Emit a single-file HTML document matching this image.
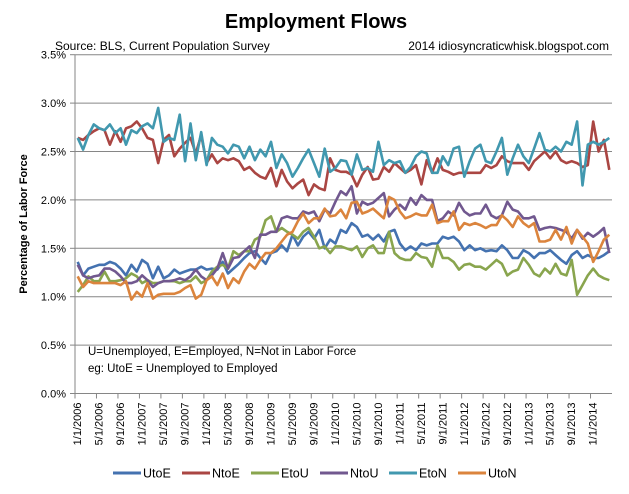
<!DOCTYPE html>
<html><head><meta charset="utf-8"><style>
html,body{margin:0;padding:0;background:#fff;}
svg{display:block;font-family:"Liberation Sans",Arial,sans-serif;}
</style></head><body>
<svg id="chart" width="629" height="494" viewBox="0 0 629 494">
<text x="316" y="28" text-anchor="middle" font-size="20" font-weight="bold" fill="#000">Employment Flows</text>
<text x="55" y="50" font-size="12" fill="#000">Source: BLS, Current Population Survey</text>
<text x="609" y="50" text-anchor="end" font-size="12" fill="#000">2014  idiosyncraticwhisk.blogspot.com</text>
<text transform="translate(27,224) rotate(-90)" text-anchor="middle" font-size="11" font-weight="bold" fill="#000">Percentage of Labor Force</text>
<g id="grid"></g>
<g id="yticks"></g>
<g id="xticks"></g>
<g id="series"></g>
<text x="88" y="355" font-size="11.5" fill="#000">U=Unemployed, E=Employed, N=Not in Labor Force</text>
<text x="88" y="372" font-size="11.5" fill="#000">eg: UtoE = Unemployed to Employed</text>
<g id="legend"></g>
</svg>
<script>
const seriesNames = ["UtoE","NtoE","EtoU","NtoU","EtoN","UtoN"];
const yTicks = [0,0.5,1.0,1.5,2.0,2.5,3.0,3.5];
const xLabels = ["1/1/2006","5/1/2006","9/1/2006","1/1/2007","5/1/2007","9/1/2007","1/1/2008","5/1/2008","9/1/2008","1/1/2009","5/1/2009","9/1/2009","1/1/2010","5/1/2010","9/1/2010","1/1/2011","5/1/2011","9/1/2011","1/1/2012","5/1/2012","9/1/2012","1/1/2013","5/1/2013","9/1/2013","1/1/2014"];
const UtoE = [1.36,1.22,1.29,1.31,1.33,1.33,1.36,1.34,1.29,1.22,1.33,1.26,1.38,1.34,1.19,1.31,1.19,1.22,1.28,1.24,1.26,1.28,1.28,1.31,1.28,
1.29,1.28,1.36,1.24,1.29,1.34,1.40,1.45,1.47,1.40,1.34,1.45,1.47,1.53,1.47,1.64,1.53,1.62,1.67,1.60,1.69,1.50,1.59,1.55,1.69,
1.66,1.76,1.72,1.62,1.64,1.59,1.64,1.57,1.67,1.69,1.55,1.48,1.52,1.48,1.55,1.53,1.55,1.55,1.62,1.60,1.62,1.57,1.48,1.53,1.48,
1.50,1.47,1.48,1.47,1.53,1.48,1.40,1.40,1.48,1.45,1.40,1.45,1.45,1.48,1.43,1.38,1.34,1.43,1.47,1.40,1.43,1.40,1.40,1.43,1.47];
const NtoE = [2.64,2.62,2.67,2.71,2.74,2.72,2.57,2.71,2.60,2.74,2.76,2.81,2.74,2.64,2.62,2.38,2.62,2.67,2.45,2.53,2.59,2.64,2.48,2.67,2.38,
2.47,2.38,2.43,2.41,2.43,2.40,2.31,2.34,2.28,2.24,2.22,2.33,2.14,2.31,2.19,2.12,2.17,2.21,2.05,2.16,2.12,2.10,2.43,2.31,2.29,
2.29,2.26,2.14,2.26,2.34,2.21,2.22,2.34,2.29,2.38,2.33,2.28,2.31,2.36,2.16,2.41,2.28,2.43,2.31,2.29,2.26,2.28,2.28,2.28,2.28,
2.28,2.36,2.33,2.36,2.45,2.40,2.38,2.38,2.38,2.31,2.40,2.45,2.50,2.43,2.50,2.41,2.38,2.40,2.38,2.34,2.36,2.81,2.50,2.62,2.31];
const EtoU = [1.05,1.12,1.21,1.16,1.16,1.26,1.16,1.16,1.17,1.19,1.24,1.21,1.14,1.17,1.14,1.14,1.16,1.16,1.16,1.14,1.16,1.16,1.21,1.14,1.17,
1.26,1.31,1.33,1.29,1.47,1.43,1.47,1.47,1.59,1.62,1.79,1.83,1.67,1.71,1.67,1.64,1.60,1.67,1.71,1.62,1.50,1.52,1.45,1.52,1.52,
1.50,1.48,1.52,1.41,1.50,1.53,1.45,1.45,1.67,1.45,1.40,1.38,1.38,1.45,1.41,1.40,1.31,1.53,1.40,1.40,1.36,1.28,1.33,1.34,1.31,
1.31,1.28,1.33,1.38,1.34,1.22,1.26,1.28,1.40,1.33,1.24,1.21,1.29,1.24,1.34,1.24,1.22,1.38,1.02,1.12,1.22,1.29,1.22,1.19,1.17];
const NtoU = [1.33,1.22,1.19,1.21,1.22,1.29,1.29,1.26,1.21,1.14,1.14,1.16,1.22,1.17,1.10,1.14,1.16,1.16,1.17,1.19,1.17,1.21,1.28,1.21,1.17,
1.22,1.29,1.45,1.29,1.40,1.41,1.47,1.52,1.40,1.64,1.64,1.67,1.67,1.81,1.83,1.81,1.81,1.88,1.86,1.88,1.78,1.90,1.86,1.98,2.09,
2.05,2.14,1.86,1.98,1.95,1.97,2.02,2.07,1.83,1.90,1.95,1.90,2.02,1.95,2.05,2.00,2.00,1.78,1.81,1.88,1.84,1.97,1.88,1.84,1.86,
1.86,1.95,1.84,1.81,1.84,1.98,1.90,1.88,1.81,1.81,1.83,1.69,1.71,1.72,1.71,1.69,1.67,1.60,1.69,1.60,1.66,1.62,1.66,1.71,1.45];
const EtoN = [2.64,2.52,2.67,2.78,2.74,2.72,2.78,2.69,2.74,2.57,2.72,2.69,2.76,2.79,2.74,2.95,2.60,2.64,2.62,2.88,2.40,2.79,2.41,2.70,2.36,
2.64,2.57,2.55,2.48,2.57,2.55,2.43,2.55,2.41,2.52,2.45,2.60,2.33,2.47,2.38,2.24,2.33,2.43,2.52,2.38,2.24,2.53,2.29,2.33,2.41,
2.40,2.26,2.47,2.31,2.33,2.29,2.60,2.36,2.41,2.38,2.40,2.28,2.34,2.45,2.50,2.48,2.28,2.28,2.45,2.36,2.53,2.55,2.24,2.40,2.53,
2.57,2.40,2.38,2.50,2.64,2.26,2.43,2.57,2.45,2.38,2.53,2.69,2.52,2.50,2.55,2.50,2.60,2.57,2.81,2.15,2.57,2.60,2.57,2.60,2.64];
const UtoN = [1.21,1.10,1.16,1.14,1.14,1.14,1.14,1.14,1.12,1.16,0.97,1.05,1.00,1.14,0.98,1.02,1.03,1.03,1.03,1.05,1.09,1.12,0.98,1.02,1.17,
1.21,1.12,1.24,1.09,1.19,1.14,1.26,1.34,1.29,1.38,1.45,1.45,1.50,1.57,1.64,1.67,1.78,1.86,1.76,1.81,1.81,1.91,1.83,1.84,1.90,
1.81,1.97,1.98,1.86,1.88,1.91,1.86,1.81,2.03,2.00,1.88,1.81,1.83,1.86,1.84,1.84,1.95,1.76,1.78,1.78,1.88,1.69,1.76,1.74,1.76,
1.74,1.71,1.74,1.74,1.84,1.79,1.72,1.83,1.76,1.72,1.76,1.57,1.57,1.59,1.69,1.59,1.72,1.55,1.69,1.62,1.55,1.36,1.47,1.59,1.64];

const NS="http://www.w3.org/2000/svg";
const X0=75, X1=612, Y0=393.5, PXPER=96.8;
const nCat = UtoE.length;
const catW=(X1-X0)/nCat;
function xScale(i){return X0+(i+0.5)*catW;}
function yScale(v){return Y0-v*PXPER;}
function mk(tag,attrs,parent){const e=document.createElementNS(NS,tag);for(const k in attrs)e.setAttribute(k,attrs[k]);parent.appendChild(e);return e;}

const grid=document.getElementById('grid');
const yt=document.getElementById('yticks');
yTicks.forEach(t=>{
  const y=yScale(t);
  if(t>0){const l=mk('line',{x1:X0,x2:X1,y1:y,y2:y,stroke:'#868686','stroke-width':1},grid);
  
  }
  const tk=mk('line',{x1:X0-5,x2:X0,y1:y,y2:y,stroke:'#868686'},yt);
  
  
  const tx=mk('text',{x:X0-9,y:y+4,'text-anchor':'end','font-size':11,fill:'#000'},yt);
  tx.textContent=t.toFixed(1)+'%';
  
  
});
const ya=mk('line',{x1:X0,x2:X0,y1:yScale(3.5),y2:Y0,stroke:'#868686'},yt);


const xt=document.getElementById('xticks');
const xa=mk('line',{x1:X0,x2:X1,y1:Y0,y2:Y0,stroke:'#868686'},xt);


xLabels.forEach((lab,k)=>{
  const i=k*4;
  const tx0=X0+i*catW;
  const tk=mk('line',{x1:tx0,x2:tx0,y1:Y0,y2:Y0+5,stroke:'#868686'},xt);
  
  
  const cx=xScale(i)+3.5;
  const t=mk('text',{transform:`translate(${cx},${Y0+9}) rotate(-90)`,'text-anchor':'end','font-size':11,fill:'#000'},xt);
  t.textContent=lab;
  
  
});
const colors={UtoE:'#4472B0',NtoE:'#AA4643',EtoU:'#89A54E',NtoU:'#71588F',EtoN:'#4198AF',UtoN:'#DB843D'};
const dataMap={UtoE,NtoE,EtoU,NtoU,EtoN,UtoN};
const sg=document.getElementById('series');
seriesNames.forEach(n=>{
  const d=dataMap[n].map((v,i)=>(i?'L':'M')+xScale(i).toFixed(1)+' '+yScale(v).toFixed(1)).join(' ');
  const p=mk('path',{d:d,fill:'none',stroke:colors[n],'stroke-width':2.6,'stroke-linejoin':'round'},sg);
  
  
});
const lg=document.getElementById('legend');
seriesNames.forEach((n,k)=>{
  const x=113+k*69;
  const g=mk('g',{},lg);
  
  
  mk('line',{x1:x,x2:x+28,y1:473,y2:473,stroke:colors[n],'stroke-width':3},g);
  const t=mk('text',{x:x+30,y:477.5,'font-size':12.5,fill:'#000'},g);
  t.textContent=n;
});
</script>
</body></html>
